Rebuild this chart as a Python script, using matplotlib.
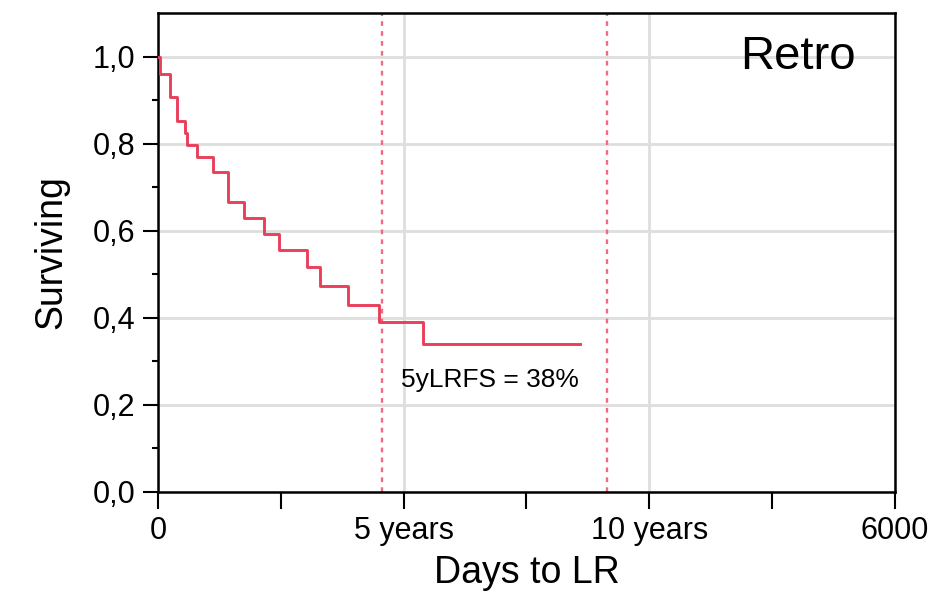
import numpy as np
import matplotlib.pyplot as plt
from matplotlib.ticker import FixedLocator, FuncFormatter

plt.rcParams['font.family'] = ['Liberation Sans', 'DejaVu Sans']

# Kaplan-Meier steps
days = [0, 20, 98, 155, 220, 239, 315, 445, 570, 700, 860, 985, 1216, 1319, 1550, 1802, 2160, 3436]
surv = [1.0, 0.959, 0.906, 0.853, 0.825, 0.797, 0.769, 0.734, 0.665, 0.629, 0.593, 0.555, 0.517, 0.474, 0.430, 0.390, 0.340, 0.340]

x_ticks = [0, 2000, 4000, 6000]
x_labels = ['0', '5 years', '10 years', '6000']
y_ticks = [0.0, 0.2, 0.4, 0.6, 0.8, 1.0]
marks = [1826, 3652]  # 5 and 10 years

fig = plt.figure(figsize=(9.33, 6.11), dpi=100)
ax = fig.add_axes([0.1693, 0.1948, 0.79, 0.784])

red = '#ea3f5b'
ax.step(days, surv, where='post', color=red, lw=2.1, zorder=3)
for m in marks:
    ax.axvline(m, color='#f36a80', lw=1.7, ls=(0, (2, 2.2)), zorder=2)

ax.set_xlim(0, 6000)
ax.set_ylim(0, 1.1)
ax.xaxis.set_major_locator(FixedLocator(x_ticks))
ax.set_xticklabels(x_labels)
ax.xaxis.set_minor_locator(FixedLocator([1000, 3000, 5000]))
ax.yaxis.set_major_locator(FixedLocator(y_ticks))
ax.yaxis.set_minor_locator(FixedLocator([0.1, 0.3, 0.5, 0.7, 0.9]))
ax.yaxis.set_major_formatter(FuncFormatter(lambda v, p: f'{v:.1f}'.replace('.', ',')))

ax.grid(True, which='major', color='#dedede', lw=2, zorder=0)
ax.set_axisbelow(True)
ax.tick_params(which='both', direction='out', width=1.5, labelsize=22, color='black')
ax.tick_params(axis='x', which='both', length=12, pad=5)
ax.tick_params(axis='y', which='major', length=11, pad=5)
ax.tick_params(axis='y', which='minor', length=4)
for s in ax.spines.values():
    s.set_linewidth(1.8)

ax.set_xlabel('Days to LR', fontsize=27, labelpad=7)
ax.set_ylabel('Surviving', fontsize=27, labelpad=17)

ax.text(2700, 0.257, '5yLRFS = 38%', fontsize=19, ha='center', va='center')
ax.text(5683, 1.0, 'Retro', fontsize=34, ha='right', va='center')

fig.savefig('out.png', dpi=100)
